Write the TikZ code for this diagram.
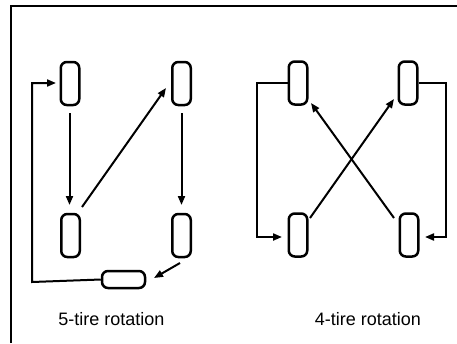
\documentclass[tikz,border=0pt]{standalone}
\usepackage{fontspec}
\setmainfont{Liberation Sans}
\usetikzlibrary{arrows.meta}
\begin{document}
\begin{tikzpicture}[x=1pt,y=-1pt,
  tire/.style={draw=black,line width=2.5pt,rounded corners=6pt,fill=white,inner sep=0pt,minimum width=18.5pt,minimum height=43pt},
  spare/.style={draw=black,line width=2.5pt,rounded corners=6pt,fill=white,inner sep=0pt,minimum width=43pt,minimum height=17pt},
  arr/.style={line width=2pt,-{Triangle[length=9pt,width=7pt]}},
  lbl/.style={font=\fontsize{18}{20}\selectfont,inner sep=0pt}]
\useasboundingbox (0,0) rectangle (457,343);
\fill[white] (0,0) rectangle (457,343);
% frame
\draw[line width=1.6pt] (11,343) -- (11,6) -- (457,6);
% 5-tire rotation
\node[tire] (a1) at (70,83.5) {};
\node[tire] (a2) at (181.5,83.5) {};
\node[tire] (a3) at (70.5,235.5) {};
\node[tire] (a4) at (181.5,235.5) {};
\node[spare] (a5) at (123.5,279.5) {};
\coordinate (ac1) at (32,282);
\coordinate (ac2) at (32,83);
\coordinate (ac3) at (56,83);
\draw[arr] (69.5,113) -- (69.5,205);
\draw[arr] (181.5,113) -- (181.5,205);
\draw[arr] (82,207) -- (166,88);
\draw[arr] (180,263) -- (154,278);
\draw[arr] (a5.west) -- (ac1) -- (ac2) -- (ac3);
\node[lbl] (t1) at (111.5,319) {5-tire rotation};
% 4-tire rotation
\node[tire] (b1) at (298,83) {};
\node[tire] (b2) at (408,83) {};
\node[tire] (b3) at (298,235) {};
\node[tire] (b4) at (409,235) {};
\draw[arr] (b1.west) -- (257,83) -- (257,237) -- (282,237);
\draw[arr] (b2.east) -- (446,83) -- (446,237) -- (425,237);
\draw[arr] (310,218) -- (394,99);
\draw[arr] (394,218) -- (311,103);
\node[lbl] (t2) at (368,319) {4-tire rotation};
\end{tikzpicture}
\end{document}
